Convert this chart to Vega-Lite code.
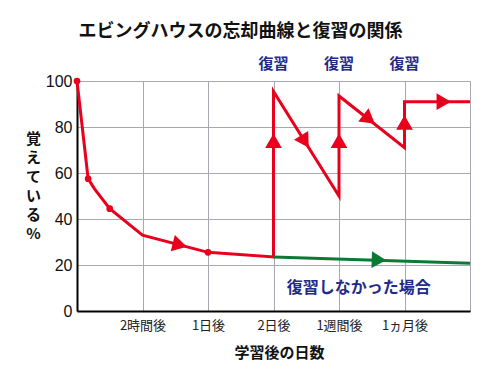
{
  "$schema": "https://vega.github.io/schema/vega-lite/v6.json",
  "width": 393,
  "height": 230,
  "autosize": "none",
  "padding": {"left": 77, "top": 81, "right": 30, "bottom": 67},
  "background": "white",
  "title": {
    "text": "エビングハウスの忘却曲線と復習の関係",
    "font": "Noto Sans CJK JP",
    "fontSize": 18,
    "fontWeight": "bold",
    "color": "#111111",
    "dx": -33,
    "offset": 16
  },
  "config": {
    "view": {"stroke": null},
    "axis": {"labelFont": "Noto Sans CJK JP", "titleFont": "Noto Sans CJK JP"}
  },
  "datasets": {
    "red": [
      {"x": 0, "y": 100, "step": 0},
      {"x": 0.17, "y": 57.5, "step": 1},
      {"x": 0.27, "y": 53, "step": 2},
      {"x": 0.5, "y": 44.5, "step": 3},
      {"x": 1.0, "y": 33, "step": 4},
      {"x": 2.0, "y": 25.5, "step": 5},
      {"x": 3.0, "y": 23.5, "step": 6},
      {"x": 3.0, "y": 95.5, "step": 7},
      {"x": 4.0, "y": 50, "step": 8},
      {"x": 4.0, "y": 93.5, "step": 9},
      {"x": 5.0, "y": 71, "step": 10},
      {"x": 5.0, "y": 91, "step": 11},
      {"x": 6.0, "y": 91, "step": 12}
    ],
    "green": [
      {"x": 3.0, "y": 23.5, "step": 0},
      {"x": 6.0, "y": 20.8, "step": 1}
    ],
    "dots": [
      {"x": 0, "y": 100},
      {"x": 0.17, "y": 57.5},
      {"x": 0.5, "y": 44.5},
      {"x": 2.0, "y": 25.5}
    ],
    "redArrows": [
      {"x": 1.57, "y": 28.7, "angle": 14},
      {"x": 3.48, "y": 73.7, "angle": 58},
      {"x": 4.46, "y": 83.3, "angle": 38},
      {"x": 3.0, "y": 74, "angle": -90},
      {"x": 4.0, "y": 74, "angle": -90},
      {"x": 5.0, "y": 82, "angle": -90},
      {"x": 5.6, "y": 91, "angle": 0}
    ],
    "greenArrows": [
      {"x": 4.61, "y": 22.2, "angle": 2}
    ],
    "reviewLabels": [
      {"x": 3.0, "y": 107.5, "text": "復習"},
      {"x": 4.0, "y": 107.5, "text": "復習"},
      {"x": 5.0, "y": 107.5, "text": "復習"}
    ],
    "noReview": [
      {"x": 4.3, "y": 10, "text": "復習しなかった場合"}
    ]
  },
  "layer": [
    {
      "data": {"name": "red"},
      "mark": {"type": "line", "color": "#e8001c", "strokeWidth": 3, "strokeJoin": "miter", "clip": false},
      "encoding": {
        "x": {
          "field": "x", "type": "quantitative",
          "scale": {"domain": [0, 6], "nice": false, "zero": false},
          "axis": {
            "values": [0, 1, 2, 3, 4, 5, 6],
            "labelExpr": "datum.value == 1 ? '2時間後' : datum.value == 2 ? '1日後' : datum.value == 3 ? '2日後' : datum.value == 4 ? '1週間後' : datum.value == 5 ? '1ヵ月後' : ''",
            "grid": true,
            "gridColor": "#a8a8b0",
            "gridWidth": 1,
            "ticks": false,
            "domainColor": "#000000",
            "domainWidth": 2,
            "labelFontSize": 13,
            "labelColor": "#222222",
            "labelPadding": 8,
            "title": "学習後の日数",
            "titleFontSize": 15,
            "titleFontWeight": "bold",
            "titleColor": "#111111",
            "titleX": 202,
            "titleY": 41,
            "titleBaseline": "middle"
          }
        },
        "y": {
          "field": "y", "type": "quantitative",
          "scale": {"domain": [0, 100], "nice": false},
          "axis": {
            "values": [0, 10, 20, 30, 40, 50, 60, 70, 80, 90, 100],
            "labelExpr": "datum.value % 20 == 0 ? datum.label : ''",
            "grid": true,
            "gridColor": "#a8a8b0",
            "gridWidth": 1,
            "ticks": false,
            "domainColor": "#000000",
            "domainWidth": 2,
            "labelFont": "Liberation Sans",
            "labelFontSize": 16,
            "labelColor": "#111111",
            "labelPadding": 5,
            "title": ["覚", "え", "て", "い", "る", "%"],
            "titleAngle": 0,
            "titleFontSize": 15,
            "titleFontWeight": "bold",
            "titleColor": "#111111",
            "titleLineHeight": 19,
            "titleAlign": "center",
            "titleBaseline": "top",
            "titleX": -44,
            "titleY": 50
          }
        },
        "order": {"field": "step", "type": "quantitative"}
      }
    },
    {
      "data": {"name": "green"},
      "mark": {"type": "line", "color": "#0b7a35", "strokeWidth": 3},
      "encoding": {
        "x": {"field": "x", "type": "quantitative"},
        "y": {"field": "y", "type": "quantitative"},
        "order": {"field": "step", "type": "quantitative"}
      }
    },
    {
      "data": {"name": "dots"},
      "mark": {"type": "point", "filled": true, "color": "#e8001c", "size": 45, "opacity": 1, "clip": false},
      "encoding": {
        "x": {"field": "x", "type": "quantitative"},
        "y": {"field": "y", "type": "quantitative"}
      }
    },
    {
      "data": {"name": "redArrows"},
      "mark": {"type": "point", "shape": "triangle-right", "filled": true, "color": "#e8001c", "size": 280, "opacity": 1},
      "encoding": {
        "x": {"field": "x", "type": "quantitative"},
        "y": {"field": "y", "type": "quantitative"},
        "angle": {"field": "angle", "type": "quantitative", "scale": null}
      }
    },
    {
      "data": {"name": "greenArrows"},
      "mark": {"type": "point", "shape": "triangle-right", "filled": true, "color": "#0b7a35", "size": 280, "opacity": 1},
      "encoding": {
        "x": {"field": "x", "type": "quantitative"},
        "y": {"field": "y", "type": "quantitative"},
        "angle": {"field": "angle", "type": "quantitative", "scale": null}
      }
    },
    {
      "data": {"name": "reviewLabels"},
      "mark": {"type": "text", "font": "Noto Sans CJK JP", "fontSize": 15, "fontWeight": "bold", "color": "#1f2a8a", "baseline": "middle", "align": "center"},
      "encoding": {
        "x": {"field": "x", "type": "quantitative"},
        "y": {"field": "y", "type": "quantitative"},
        "text": {"field": "text"}
      }
    },
    {
      "data": {"name": "noReview"},
      "mark": {"type": "text", "font": "Noto Sans CJK JP", "fontSize": 16, "fontWeight": "bold", "color": "#1f2a8a", "baseline": "middle", "align": "center"},
      "encoding": {
        "x": {"field": "x", "type": "quantitative"},
        "y": {"field": "y", "type": "quantitative"},
        "text": {"field": "text"}
      }
    }
  ]
}
